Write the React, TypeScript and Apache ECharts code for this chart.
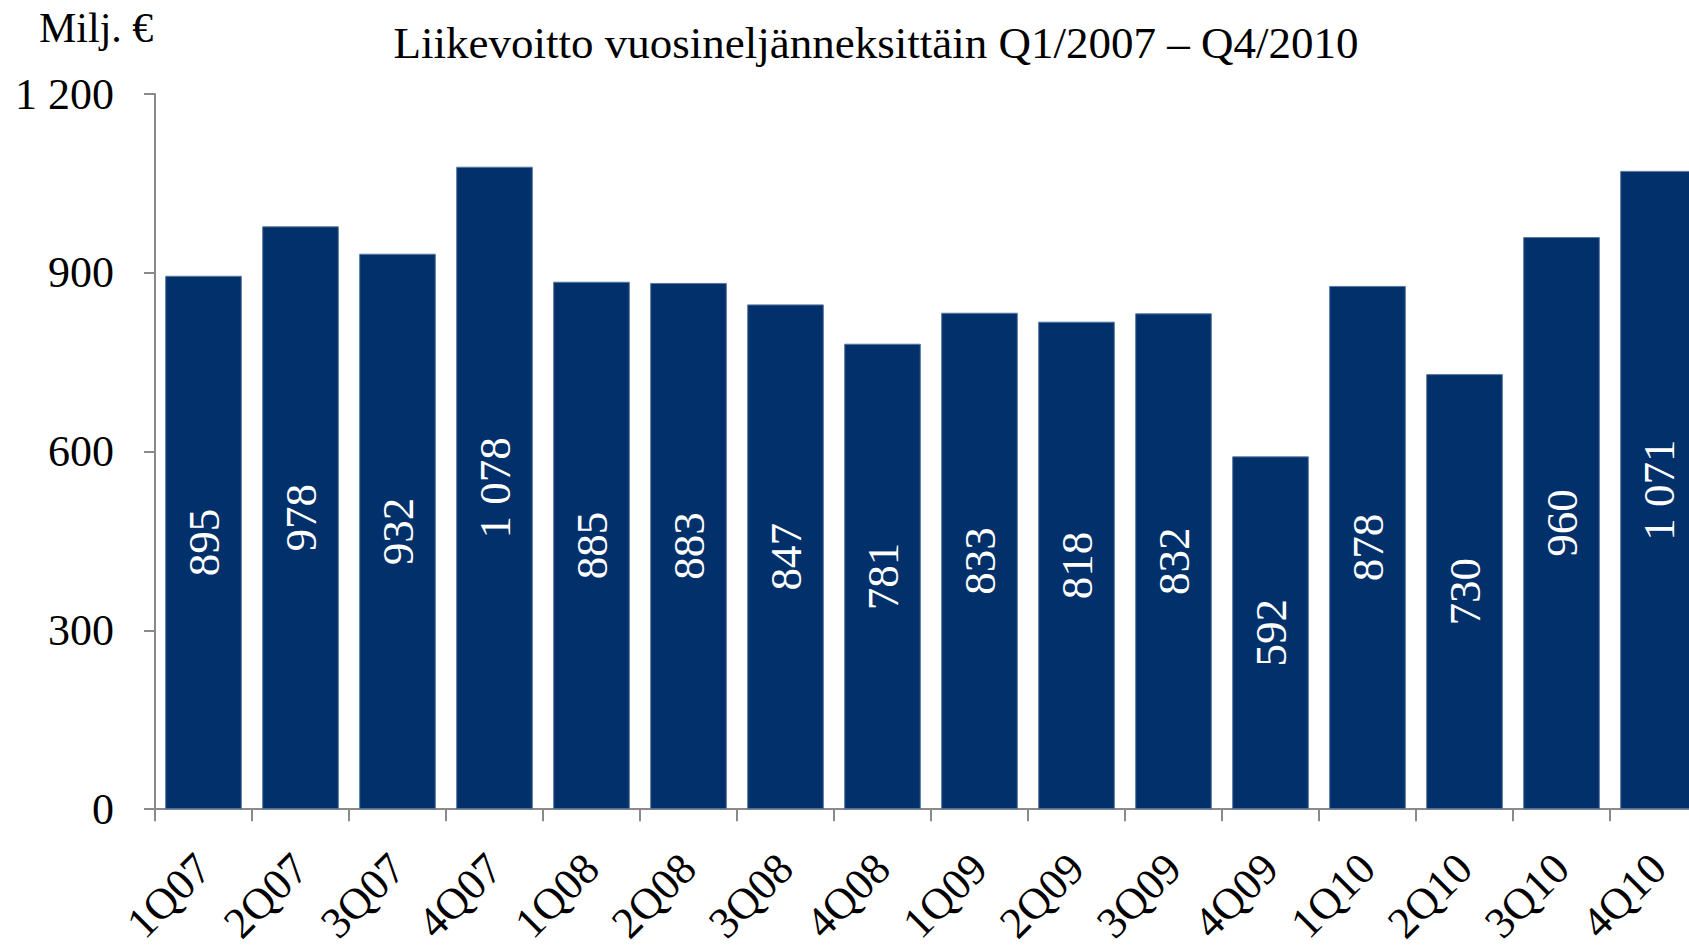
import React, { useEffect, useRef } from "react";
import * as echarts from "echarts";

const categories = ["1Q07", "2Q07", "3Q07", "4Q07", "1Q08", "2Q08", "3Q08", "4Q08", "1Q09", "2Q09", "3Q09", "4Q09", "1Q10", "2Q10", "3Q10", "4Q10"];
const values = [895, 978, 932, 1078, 885, 883, 847, 781, 833, 818, 832, 592, 878, 730, 960, 1071];
const yTicks = { min: 0, max: 1200, interval: 300 };
const titleText = "Liikevoitto vuosineljänneksittäin Q1/2007 – Q4/2010";
const unitText = "Milj. €";

const fmt = (v: number) => String(v).replace(/\B(?=(\d{3})+(?!\d))/g, " ");

export default function App() {
  const ref = useRef<HTMLDivElement>(null);
  useEffect(() => {
    if (!ref.current) return;
    const chart = echarts.init(ref.current, undefined, { renderer: "svg" });
    const font = "'Liberation Serif', serif";
    chart.setOption({
      animation: false,
      backgroundColor: "#ffffff",
      title: [
        { text: titleText, left: 871, top: 15, textAlign: "center", textStyle: { fontFamily: font, fontSize: 45, fontWeight: "normal", color: "#000" } },
        { text: unitText, left: 34, top: 2, textStyle: { fontFamily: font, fontSize: 42, fontWeight: "normal", color: "#000" } },
      ],
      grid: { left: 155, right: 0, top: 94, bottom: 136, containLabel: false },
      xAxis: {
        type: "category",
        data: categories,
        boundaryGap: true,
        axisLine: { lineStyle: { color: "#8a8a8a", width: 2 } },
        axisTick: { show: true, length: 12, alignWithLabel: false, lineStyle: { color: "#8a8a8a", width: 2 } },
        axisLabel: { rotate: 45, margin: 52, fontFamily: font, fontSize: 44, color: "#000", interval: 0 },
      },
      yAxis: {
        type: "value",
        min: yTicks.min,
        max: yTicks.max,
        interval: yTicks.interval,
        splitLine: { show: false },
        axisLine: { show: true, lineStyle: { color: "#8a8a8a", width: 2 } },
        axisTick: { show: true, length: 11, lineStyle: { color: "#8a8a8a", width: 2 } },
        axisLabel: { fontFamily: font, fontSize: 44, color: "#000", margin: 41, formatter: (v: number) => fmt(v) },
      },
      series: [
        {
          type: "bar",
          data: values,
          barCategoryGap: "21%",
          itemStyle: { color: "#02306a", borderColor: "#5a77a0", borderWidth: 1 },
          label: {
            show: true,
            position: "inside",
            rotate: 90,
            color: "#ffffff",
            fontFamily: font,
            fontSize: 45,
            formatter: (p: any) => fmt(p.value),
          },
        },
      ],
    });
    return () => chart.dispose();
  }, []);
  return <div ref={ref} style={{ position: "fixed", left: 0, top: 0, width: 1707, height: 948 }} />;
}
